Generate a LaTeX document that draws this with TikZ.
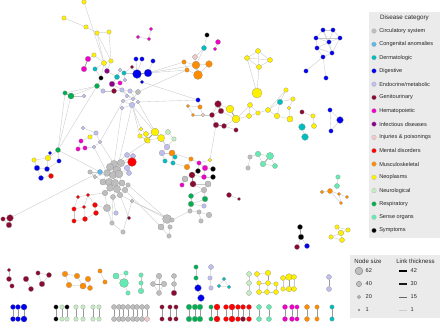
\documentclass[tikz,border=0pt]{standalone}
\usepackage{fontspec}
\setmainfont{Liberation Sans}
\pgfdeclarelayer{edges}
\pgfsetlayers{edges,main}
\definecolor{cir}{RGB}{190,190,190}
\definecolor{con}{RGB}{92,184,230}
\definecolor{der}{RGB}{0,190,190}
\definecolor{dig}{RGB}{0,0,238}
\definecolor{endo}{RGB}{190,190,240}
\definecolor{gen}{RGB}{139,10,50}
\definecolor{hem}{RGB}{240,0,200}
\definecolor{inf}{RGB}{140,0,140}
\definecolor{inj}{RGB}{240,200,200}
\definecolor{men}{RGB}{255,0,0}
\definecolor{mus}{RGB}{255,140,0}
\definecolor{neo}{RGB}{255,240,0}
\definecolor{neu}{RGB}{195,238,195}
\definecolor{res}{RGB}{0,175,80}
\definecolor{sen}{RGB}{100,235,180}
\definecolor{sym}{RGB}{0,0,0}
\definecolor{legbg}{RGB}{235,235,235}
\tikzset{
  dz/.style={circle,inner sep=0pt,minimum size=1.12*#1pt,draw=black!45,line width=.2pt},
  link/.style={draw=black!22,line width=.35pt},
  hvy/.style={draw=black!40,line width=.8pt},
  legtxt/.style={font=\fontsize{5.6}{6}\selectfont,text=black!85,inner sep=0pt},
}
\begin{document}
\begin{tikzpicture}[x=1pt,y=-1pt]
\useasboundingbox (0,0) rectangle (440,322);
% nodes: name/x/y/category/size
\foreach \n/\x/\y/\cl/\s in {
  ya1/84/2/neo/4, ya2/64/18/neo/4, ya3/86/27/neo/4, ya4/97/33/neo/4, ya5/109/32/neo/4,
  ya6/94/55/neo/4, ya7/104/63/neo/4.5, ya8/111/61/neo/4, hm1/88/59/hem/5, hm2/84/69/hem/5,
  de1/95/69/der/4, in1/107/71/inf/4.5, sy1/101/78/sym/4, de2/117/77/der/4.5, in2/112/84/inf/5,
  hm3/120/83/hem/4, de3/124/73/der/4, en1/120/70/endo/3.5, en2/125/80/endo/3.5, ge1/132/67/gen/3.5,
  re1/97/86/res/4.5, re2/65/93/res/4, re3/71/96/res/5.5, en3/84/96/endo/3.5, en4/103/91/endo/4,
  ge2/114/91/gen/4.5, en5/122/90/endo/4, en6/130/91/endo/4, en7/138/92/cir/4.5, en8/127/96/endo/3.5,
  en9/133/99/endo/3.5, en10/123/101/endo/3.5, en11/132/105/endo/5, en12/122/108/endo/3.5, en13/138/102/endo/3.5,
  hm4/151/29/hem/3.5, hm5/138/37/hem/3.5, hm6/149/39/hem/3.5,
  bl1/136/59/dig/4, bl2/142/59/dig/4, bl3/153/61/dig/4, bl4/137/74/dig/8, bl5/148/73/dig/7, bl6/142/82/dig/3.5,
  pk1/195/57/inj/4.5, or1/184/62/mus/4, or2/196/65/mus/7, or3/209/64/mus/6, or4/187/70/mus/4, or5/198/75/mus/8,
  sy2/207/35/sym/4, de4/204/48/der/4.5, hm7/218/42/hem/4.5, hm8/215/49/hem/3.5,
  ye1/258/51/neo/4.5, ye2/247/58/neo/4.5, ye3/270/60/neo/4.5, ye4/259/67/neo/4.5, ye5/257/93/neo/9,
  bt1/323/30/dig/4, bt2/333/30/dig/4, bt3/316/38/dig/4, bt4/329/42/dig/4, bt5/340/38/dig/4,
  bt6/317/48/dig/4, bt7/332/53/dig/4, bt8/323/57/dig/4, bt9/306/71/dig/4, bt10/326/78/dig/4,
  bl7/198/100/dig/4, or6/188/106/mus/3, or7/200/107/mus/4, or8/193/115/mus/3, pk2/203/115/inj/3.5,
  gr1/218/104/gen/6, gr2/221/111/gen/5, gr3/212/115/gen/4.5, gr4/216/125/gen/5, gr5/224/126/gen/4.5, gr6/236/130/gen/4,
  yc1/230/109/neo/7, yc2/236/119/neo/7, yc3/250/105/neo/4.5, yc4/249/116/neo/4.5, yc5/258/113/neo/4,
  yc6/268/110/neo/4.5, yc7/286/90/neo/4, de5/280/102/der/5, yc8/293/99/neo/4, yc9/289/108/neo/3.5,
  yc10/277/116/neo/5, yc11/290/119/neo/5.5, ge7/302/112/gen/4, yc12/313/116/neo/4, yc13/314/126/neo/4.5,
  de6/302/127/der/6, de7/305/137/der/6, bx1/330/110/dig/4, bx2/340/120/dig/6, bx3/331/131/dig/4,
  yl1/141/129/neo/3.5, yl2/155/132/neo/7, yl3/146/134/neo/4.5, yl4/140/136/neo/4, yl5/147/140/neo/5,
  yl6/161/138/neo/6.5, nl1/168/132/neu/4.5, nl2/174/139/neu/4, en14/167/147/endo/5,
  en15/83/128/endo/3.5, en16/96/133/endo/4, ye9/90/137/neo/4, hm9/81/141/hem/4, en17/100/142/endo/3.5,
  re4/58/150/res/4.5, hm10/78/149/hem/4, hm11/85/148/hem/4, en18/94/147/endo/3.5,
  bl8/50/153/dig/3.5, ye10/48/158/neo/5, ye11/34/160/neo/4, bl9/59/161/dig/4, bl10/37/168/dig/5,
  bl11/47/169/dig/4.5, me1/51/176/men/4.5, bl12/41/178/dig/4.5,
  en19/127/155/endo/4.5, en20/133/156/endo/4.5, me2/132/162/men/8, en21/127/168/endo/5, en22/129/173/endo/4.5,
  ye12/148/141/neo/4, en23/162/153/endo/5, or9/172/153/mus/5.5, de8/175/157/der/4, de9/173/163/der/4, de10/165/161/der/4,
  ci1/114/164/cir/6.5, ci2/121/163/cir/6.5, ci3/110/167/cir/6.5, ci4/117/170/cir/7, ci5/107/173/cir/6,
  ci6/113/175/cir/6.5, ci7/119/174/cir/7, ci8/103/182/cir/5.5, ci9/109/182/cir/6.5, ci10/115/183/cir/6.5,
  ci11/122/183/cir/5.5, ci12/110/188/cir/6, ci13/117/189/cir/6.5, ci14/125/190/cir/5, ci15/105/193/cir/5,
  ci16/120/195/cir/5, ci17/107/208/cir/6.5, ci18/90/172/cir/4, ci19/95/177/cir/3.5, ci21/128/185/cir/4,
  ci22/113/197/cir/4.5, ci23/132/201/cir/3.5, ci24/112/223/cir/4, ci25/123/232/cir/4, co1/100/172/con/4.5,
  me3/78/197/men/3.5, me4/88/195/men/3.5, me5/95/205/men/4.5, me6/84/207/men/3.5, me7/74/209/men/4,
  me8/96/213/men/4.5, me9/74/221/men/4, me10/85/219/men/4.5, en25/116/213/endo/4, ge8/129/218/gen/3.5,
  ci26/167/219/cir/8, ci27/161/227/cir/5.5, ci28/170/227/cir/4, ci29/169/236/cir/4,
  ge9/3/219/gen/4, ge10/10/218/gen/6, ge11/9/225/gen/5,
  or10/191/159/mus/4, or11/187/167/mus/5, hm12/199/163/hem/4, hm13/205/168/hem/5, sy3/198/171/sym/4.5,
  sy4/213/169/sym/4.5, ye13/210/160/neo/3.5, ge12/192/175/gen/5.5, hm14/204/177/hem/4.5, sy5/213/177/sym/4.5,
  ci30/185/179/cir/5.5, ci31/208/184/cir/5.5, ge13/193/184/gen/5.5, hm15/182/185/hem/4, ci32/204/190/cir/5,
  re5/191/196/res/4.5, re6/205/199/res/5, re7/191/204/res/5, en26/204/206/endo/4, ci33/190/211/cir/4,
  ci34/199/212/cir/4, ci35/209/215/cir/5, ci36/201/221/cir/4, ci37/172/220/cir/4,
  ge14/229/195/gen/4.5, ge15/239/199/gen/3,
  ci38/250/157/cir/4, se1/258/154/sen/5, se2/270/156/sen/6.5, se3/263/164/sen/5, se4/275/166/sen/4.5, ci39/248/168/cir/4,
  se5/338/177/sen/4, se6/337/186/sen/4.5, or12/322/192/mus/3.5, or13/330/191/mus/4.5, or14/339/194/mus/3,
  or15/347/197/mus/3, or16/341/203/mus/3,
  sy6/300/227/sym/4.5, sy7/301/237/sym/5, ge16/297/247/gen/4.5, bl13/307/246/dig/4.5,
  yr1/337/227/neo/4, yr2/341/233/neo/5, yr3/348/230/neo/4, yr4/331/237/neo/4, yr5/342/240/neo/4.5,
  ge17/9/270/gen/3.5, ge18/9/279/gen/4.5, ge19/12/286/gen/4, ge20/26/279/gen/5, ge21/31/289/gen/4.5,
  ge22/38/273/gen/4, ge23/49/275/gen/4.5, ge24/42/284/gen/5,
  or17/65/274/mus/5, or18/77/276/mus/5, or19/69/285/mus/5, or20/83/286/mus/5.5, or21/88/279/mus/5, or22/90/288/mus/4.5,
  or23/100/271/mus/4, or24/105/282/mus/4,
  se7/116/276/sen/5.5, se8/126/273/sen/4, se9/124/283/sen/8, se10/128/293/sen/4,
  se11/141/275/sen/4, se12/141/283/sen/4, se13/141/291/sen/5,
  ci40/159/276/cir/5, ci41/153/284/cir/4.5, ci42/164/284/cir/5, ci43/159/293/cir/4.5,
  ci44/174/276/cir/4.5, ci45/174/284/cir/4.5, ge25/174/293/gen/5,
  re8/196/267/res/4, re9/196/278/res/4, bl14/198/288/dig/6, bl15/201/298/dig/6,
  en27/211/267/endo/4.5, en28/210/278/endo/4, en29/211/288/endo/4,
  de11/224/279/der/3.5, de12/219/286/der/3.5, de13/229/287/der/3.5,
  nl4/249/274/neu/4.5, nl5/249/283/neu/4.5, nl6/249/293/neu/4.5,
  ye14/257/274/neo/4.5, ye15/259/283/neo/4, ye16/259/292/neo/4.5, ye17/268/273/neo/5, ye18/268/283/neo/4.5,
  ye19/267/292/neo/4.5, ye20/276/284/neo/4, ye21/276/292/neo/4.5,
  ye22/283/278/neo/4.5, ye23/289/277/neo/6, ye24/294/277/neo/4.5, ye25/283/289/neo/4, ye26/289/289/neo/5, ye27/294/289/neo/4.5,
  en30/329/277/endo/4.5, en31/329/289/endo/4.5}
  \node[dz=\s,fill=\cl] (\n) at (\x,\y) {};
\begin{pgfonlayer}{edges}
\foreach \a/\b in {ya1/ya7, ya2/ya3, ya3/ya4, ya4/ya5, ya4/ya7, ya5/ya8, ya4/ya8, ya6/hm1, ya6/ya7, ya7/ya8,
  ya7/de1, ya7/in1, ya7/sy1, ya8/in1, de1/sy1, sy1/re1, in1/de2, de2/in2, in2/hm3, de2/en1, de3/en2, en2/hm3,
  re1/re2, re1/re3, re3/en3, re1/en4, en4/ge2, ge2/en5, in2/en5, en5/en6, en6/en7, en5/en8, en8/en9, en9/en10,
  en10/en11, en11/en12, en6/en13, en13/en11, en9/en7, en8/en10, en5/en9, bl1/bl4, bl2/bl4, bl3/bl5, bl4/bl6,
  bl5/de3, bl4/ge1, ge1/de3, bl5/or1, bl5/or4, bl5/or2, hm4/hm6, hm5/hm6, re2/re4, re3/re4, re1/re4,
  en11/yl1, en11/yl4, en11/en14, en13/yl2, en12/ci1, en11/ci4, en10/en17, en7/or4, en13/bl7, bl6/bl7,
  or1/or2, or2/or3, or4/or5, or1/or4, or3/or5, pk1/or2, de4/pk1, de4/sy2, de4/or2, hm7/hm8,
  ye1/ye2, ye1/ye3, ye2/ye3, ye2/ye4, ye3/ye4, ye1/ye4, ye2/ye5, ye4/ye5,
  bt1/bt2, bt1/bt3, bt1/bt4, bt2/bt5, bt2/bt4, bt3/bt4, bt3/bt6, bt4/bt5, bt4/bt6, bt4/bt7, bt5/bt7,
  bt6/bt7, bt6/bt8, bt7/bt8, bt1/bt7, bt3/bt5, bt8/bt9, bt8/bt10,
  bl7/or7, or6/or7, or6/or8, or7/pk2, or8/pk2, pk2/gr3, gr1/gr2, gr1/gr3, gr2/gr3, gr1/yc1, gr2/yc2,
  gr3/gr4, gr4/gr5, gr5/gr6, yc2/gr5, yc2/yc3, yc2/yc4, yc3/yc4, yc3/yc5, yc4/yc5, yc5/yc6, yc6/yc7,
  yc6/de5, yc6/yc10, yc7/de5, yc8/de5, yc8/yc9, yc9/yc11, yc10/yc11, de5/yc10, ge7/yc12, yc12/yc13,
  de6/de7, bx1/bx2, bx1/bx3, bx2/bx3, gr4/ye13,
  en15/en16, en16/ye9, ye9/hm9, en16/en17, hm9/hm10, hm10/hm11, hm11/en18, en17/en18, re4/ye10, re4/bl9,
  bl8/ye10, ye10/ye11, ye10/bl11, bl9/bl11, bl10/bl11, bl10/bl12, bl11/me1, bl12/me1, ye11/bl10,
  en18/ci5, en17/ci1, re4/co1, co1/ge10,
  yl1/yl3, yl2/yl3, yl2/yl6, yl4/yl5, yl3/yl5, yl5/yl6, yl6/nl1, nl1/nl2, yl6/en14, nl2/en14,
  en14/en23, en23/or9, or9/de8, or9/de9, de8/de9, de10/de9, de10/en23, ye12/en19, ye12/yl4,
  me2/en19, me2/en20, me2/en21, me2/ci2, en21/en22, en22/ci4, en19/ci1, en20/ci2, co1/ci5, co1/ci18,
  ci18/ci19, ci19/ci5, ci18/ci8, ci1/ci2, ci1/ci3, ci2/ci4, ci3/ci4, ci3/ci5, ci4/ci6, ci4/ci7, ci5/ci6,
  ci6/ci7, ci5/ci8, ci6/ci9, ci6/ci10, ci7/ci10, ci7/ci11, ci8/ci9, ci9/ci10, ci10/ci11, ci9/ci12,
  ci10/ci13, ci11/ci13, ci12/ci13, ci11/ci14, ci13/ci14, ci12/ci15, ci13/ci16, ci14/ci21, ci15/ci17,
  ci16/ci22, ci13/ci22, ci3/ci9, ci2/ci7, ci1/ci10, ci8/ci12, ci9/ci13, ci1/ci6,
  ci23/ci26, ci21/ci26, ci14/ci27, ci26/ci27, ci26/ci28, ci27/ci29, ci28/ci29, ci37/ci23, ci33/ci37,
  me3/me4, me3/me7, me4/me5, me4/me6, me6/me7, me5/me8, me6/me10, me7/me9, me9/me10, me8/me10,
  me4/ci15, me5/ci17, en25/ci22, ge8/ci16, ci24/ci17, ci24/ci22, ci25/ci23, ci25/ci24, ci16/ci23,
  ge9/ge10, ge10/ge11, ge9/ge11,
  or10/or11, or10/hm12, hm12/hm13, hm12/sy3, hm13/sy4, sy3/ge12, ge12/hm14, hm14/sy5, hm13/hm14,
  ge12/ci30, ge12/ge13, ge13/ci31, ci30/hm15, ge13/ci32, ci31/ci32, ci32/re5, ci32/re6, re5/re7,
  re6/re7, re7/en26, re7/ci33, ci33/ci34, ci34/ci35, ci34/ci36, ye13/hm12, or10/or9, or11/de9,
  ge14/ge15, ci38/se1, se1/se2, se1/se3, se3/se4, se2/se4, ci38/ci39,
  se5/se6, or12/or13, or13/or14, or14/or15, or13/or16, or14/or16,
  sy7/ge16, sy7/bl13, yr1/yr2, yr2/yr3, yr1/yr3, yr2/yr4, yr2/yr5, yr4/yr5,
  ge17/ge18, ge18/ge19, ge20/ge21, ge22/ge23, ge22/ge24, ge23/ge24,
  or17/or18, or17/or19, or18/or20, or19/or20, or20/or21, or21/or22, or20/or22, or23/or24,
  se7/se8, se7/se9, se8/se9, se9/se10, se11/se12, se12/se13,
  ci40/ci41, ci40/ci42, ci41/ci42, ci41/ci43, ci42/ci43, ci40/ci43, ci44/ci45, ci45/ge25,
  re8/re9, re9/bl14, bl14/bl15, en27/en28, en28/en29, de11/de12, de11/de13, de12/de13,
  nl4/nl5, nl5/nl6, ye14/ye15, ye15/ye16, ye14/ye17, ye18/ye19, ye16/ye19, ye18/ye20,
  ye20/ye21, ye19/ye21, ye15/ye18, ye22/ye25, ye24/ye27, ye22/ye23, ye23/ye24, ye25/ye26, ye26/ye27}
  \draw[link] (\a)--(\b);
\foreach \a/\b in {re2/re3, bl4/bl5, or2/or5, yc1/yc2, gr2/gr1, hm1/hm2, se2/se3, sy6/sy7, ye17/ye18,
  ye23/ye26, en30/en31, ci41/ci42, yl2/yl5, gr4/gr5, ge12/ge13, ci4/ci7}
  \draw[hvy] (\a)--(\b);
\end{pgfonlayer}
% bottom row of pairs
\foreach \x/\ct/\cb/\s [count=\i] in {13/dig/dig/4.5, 18/dig/dig/4.5, 24/dig/dig/5.5, 56/sym/sym/4,
  62/neu/neu/4, 67/sym/neu/4, 76/neu/neu/4, 83/neu/neu/4, 93/neu/neu/4, 99/neu/neu/4,
  114/cir/cir/4.5, 119/cir/cir/4.5, 123/cir/cir/4.5, 128/cir/cir/4.5, 133/cir/cir/4.5, 137/cir/cir/4.5,
  142/cir/cir/4.5, 147/cir/inj/4.5, 162/gen/gen/4, 170/gen/gen/4, 176/gen/gen/4,
  189/res/res/5, 195/res/res/5, 200/res/res/5, 211/res/res/4, 217/men/men/5.5,
  226/men/men/4.5, 232/men/men/5.5, 238/men/men/4.5, 243/men/gen/4.5, 249/men/men/4.5,
  259/sen/sen/4.5, 269/sen/sen/4.5, 285/hem/hem/4.5, 292/hem/hem/4.5, 297/hem/hem/4,
  307/mus/mus/4.5, 317/mus/mus/4, 332/der/der/4}{
  \node[dz=\s,fill=\ct] (pt\i) at (\x,307) {};
  \node[dz=\s,fill=\cb] (pb\i) at (\x,319) {};
  \begin{pgfonlayer}{edges}\draw[hvy] (pt\i)--(pb\i);\end{pgfonlayer}
}
% legend
\fill[legbg] (369,12) rectangle (440,238);
\node[legtxt,font=\fontsize{6.3}{7}\selectfont] (legtitle) at (404.5,18) {Disease category};
\foreach \cl/\lab [count=\i] in {cir/Circulatory system, con/Congenital anomalies, der/Dermatologic,
  dig/Digestive, endo/{Endocrine/metabolic}, gen/Genitourinary, hem/Hematopoietic, inf/Infectious diseases,
  inj/Injuries \& poisonings, men/Mental disorders, mus/Musculoskeletal, neo/Neoplasms, neu/Neurological,
  res/Respiratory, sen/Sense organs, sym/Symptoms}{
  \node[dz=4.2,fill=\cl,draw=black!30] (lc\i) at (374,{31+13.3*(\i-1)}) {};
  \node[legtxt,anchor=west] (ll\i) at ([xshift=2.6pt]lc\i.east) {\lab};
}
\fill[legbg] (350,255) rectangle (440,318);
\node[legtxt,font=\fontsize{6.1}{7}\selectfont] (sztitle) at (368,261) {Node size};
\node[legtxt,font=\fontsize{6.1}{7}\selectfont] (lktitle) at (415.5,261) {Link thickness};
\foreach \lab/\s/\w [count=\i] in {62/6.8/42, 40/4.7/30, 20/2.9/15, 1/1.3/1}{
  \node[dz=\s,fill=cir,draw=black!50,line width=.4pt] (sz\i) at (359,{271+13*(\i-1)}) {};
  \node[legtxt,anchor=west] (szl\i) at (365.5,{271+13*(\i-1)}) {\lab};
  \coordinate (lk\i a) at (399,{271+13*(\i-1)});
  \coordinate (lk\i b) at (407,{271+13*(\i-1)});
  \node[legtxt,anchor=west] (lkl\i) at (410.5,{271+13*(\i-1)}) {\w};
}
\draw[line width=2pt,black] (lk1a)--(lk1b);
\draw[line width=1.5pt,black!90] (lk2a)--(lk2b);
\draw[line width=.9pt,black!60] (lk3a)--(lk3b);
\draw[line width=.6pt,black!20] (lk4a)--(lk4b);
\end{tikzpicture}
\end{document}
